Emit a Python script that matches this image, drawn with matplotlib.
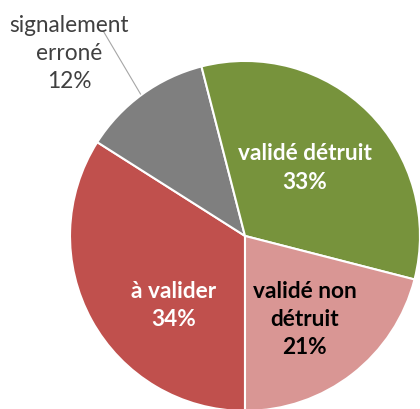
import matplotlib
matplotlib.use("Agg")
import matplotlib.pyplot as plt

labels = ["à valider", "signalement\nerroné", "validé détruit", "validé non\ndétruit"]
values = [34, 12, 33, 21]
colors = ["#C0504D", "#7F7F7F", "#77933C", "#D99694"]
text_colors = ["white", "#404040", "white", "black"]

plt.rcParams['font.family'] = ['Lato', 'DejaVu Sans']

fig = plt.figure(figsize=(4.2, 4.1), dpi=100)
ax = fig.add_axes([0, 0, 1, 1])

wedges, _ = ax.pie(values, colors=colors, startangle=270, counterclock=False,
                   radius=1.0, center=(0, 0),
                   wedgeprops=dict(edgecolor="white", linewidth=1.5))

# label spots (data units, pie radius = 1)
label_pos = [(-0.41, -0.394), (-1.005, 1.05), (0.34, 0.394), (0.34, -0.47)]
for lab, v, pos, tc in zip(labels, values, label_pos, text_colors):
    bold = tc != "#404040"
    ax.text(pos[0], pos[1], f"{lab}\n{v}%", ha="center", va="center",
            color=tc, fontsize=16.3, fontweight="bold" if bold else "normal",
            linespacing=1.42)

# leader line for the small slice
ax.plot([-0.81, -0.597], [1.171, 0.811], color="#A6A6A6", linewidth=0.8)

ax.set_xlim(-1.4, 1.0)
ax.set_ylim(-0.989, 1.354)
ax.set_aspect("equal")
ax.axis("off")

fig.savefig("out.png", dpi=100)
